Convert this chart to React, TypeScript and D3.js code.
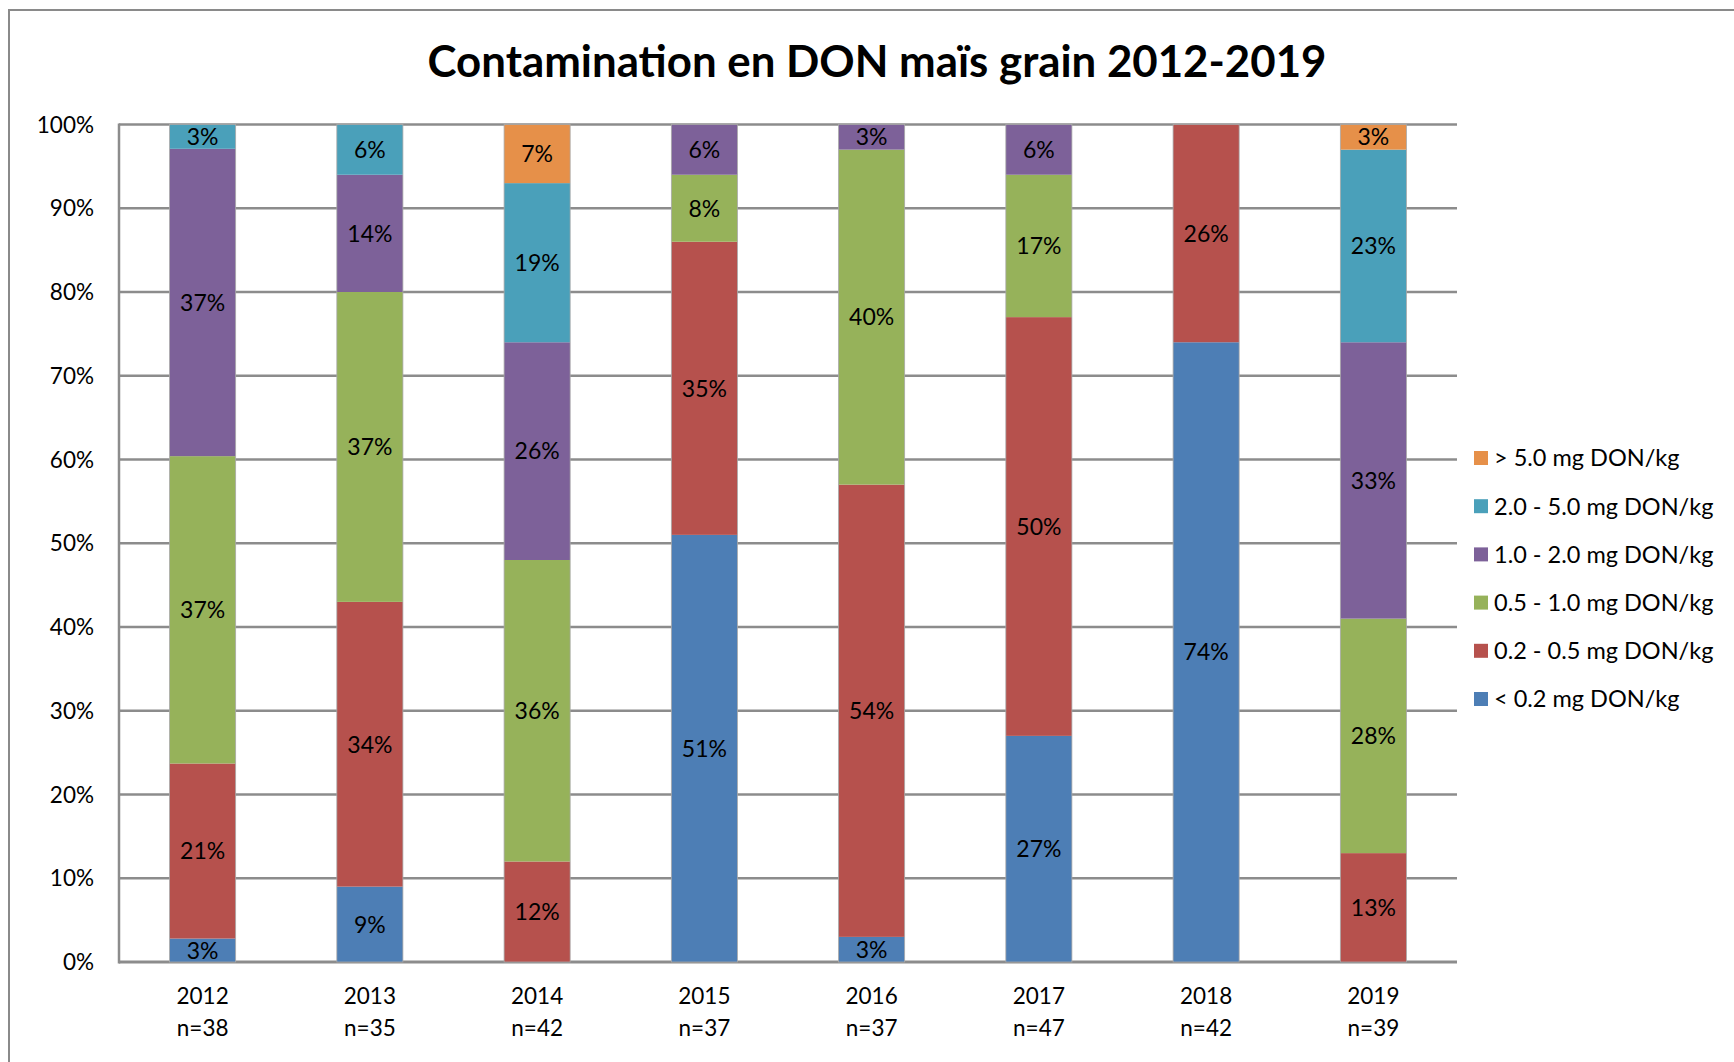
import * as d3 from "d3";

const YEARS = ["2012", "2013", "2014", "2015", "2016", "2017", "2018", "2019"];
const N_SAMPLES = [38, 35, 42, 37, 37, 47, 42, 39];

// shares per class, in %, bottom to top
const LT_02 = [2.8, 9, 0, 51, 3, 27, 74, 0];
const R02_05 = [20.9, 34, 12, 35, 54, 50, 26, 13];
const R05_10 = [36.7, 37, 36, 8, 40, 17, 0, 28];
const R10_20 = [36.7, 14, 26, 6, 3, 6, 0, 33];
const R20_50 = [2.9, 6, 19, 0, 0, 0, 0, 23];
const GT_50 = [0, 0, 7, 0, 0, 0, 0, 3];

const SERIES = ["lt02", "r0205", "r0510", "r1020", "r2050", "gt50"];
const SERIES_LABELS = [
  "< 0.2 mg DON/kg",
  "0.2 - 0.5 mg DON/kg",
  "0.5 - 1.0 mg DON/kg",
  "1.0 - 2.0 mg DON/kg",
  "2.0 - 5.0 mg DON/kg",
  "> 5.0 mg DON/kg",
];
const COLORS = ["#4d7eb5", "#b6514d", "#96b25a", "#7d6199", "#4aa0ba", "#e69049"];
const Y_TICKS = [0, 10, 20, 30, 40, 50, 60, 70, 80, 90, 100];

const TITLE = "Contamination en DON maïs grain 2012-2019";
const FONT = "Lato, 'Open Sans', sans-serif";

const rows = YEARS.map((year, i) => ({
  year,
  lt02: LT_02[i],
  r0205: R02_05[i],
  r0510: R05_10[i],
  r1020: R10_20[i],
  r2050: R20_50[i],
  gt50: GT_50[i],
}));

export default function App() {
  const width = 1734;
  const height = 1062;
  const plot = { left: 119, right: 1457, top: 124.5, bottom: 962 };

  const x = d3
    .scaleBand<string>()
    .domain(YEARS)
    .range([plot.left, plot.right])
    .paddingInner(0.605)
    .paddingOuter(0.3025);
  const y = d3.scaleLinear().domain([0, 100]).range([plot.bottom, plot.top]);
  const color = d3.scaleOrdinal<string, string>().domain(SERIES).range(COLORS);

  const stacked = d3.stack<any>().keys(SERIES)(rows);

  const legendY = d3
    .scalePoint<number>()
    .domain(d3.range(SERIES.length))
    .range([458, 699]);

  const grid = "#8c8c8c";

  return (
    <svg
      width={width}
      height={height}
      style={{ position: "absolute", left: 0, top: 0, background: "#fff" }}
      fontFamily={FONT}
    >
      {/* chart frame, runs off right and bottom */}
      <rect x={9} y={10} width={width} height={height} fill="none" stroke="#8a8a8a" strokeWidth={2} />

      <text x={877} y={77} textAnchor="middle" fontSize={43.8} fontWeight={700} fill="#000">
        {TITLE}
      </text>

      {/* gridlines + y labels */}
      {Y_TICKS.map((t) => (
        <g key={t}>
          <line
            x1={plot.left}
            x2={plot.right}
            y1={y(t)}
            y2={y(t)}
            stroke={grid}
            strokeWidth={t === 0 ? 3 : 2.5}
          />
          <text
            x={94}
            y={y(t)}
            dy="0.36em"
            textAnchor="end"
            fontSize={22.5}
            fill="#000"
          >
            {t}%
          </text>
        </g>
      ))}
      <line x1={plot.left} x2={plot.left} y1={plot.top - 1} y2={plot.bottom + 1.5} stroke={grid} strokeWidth={2.5} />

      {/* bars */}
      {stacked.map((layer) => (
        <g key={layer.key} fill={color(layer.key)}>
          {layer.map((d) => (
            <rect
              key={d.data.year}
              x={x(d.data.year)}
              y={y(d[1])}
              width={x.bandwidth()}
              height={Math.max(0, y(d[0]) - y(d[1]))}
            />
          ))}
        </g>
      ))}
      {YEARS.map((yr) => (
        <rect
          key={yr}
          x={x(yr)}
          y={y(100)}
          width={x.bandwidth()}
          height={y(0) - y(100)}
          fill="none"
          stroke="#a9a9a9"
          strokeWidth={0.8}
        />
      ))}

      {/* value labels */}
      {stacked.map((layer) =>
        layer
          .filter((d) => d[1] - d[0] > 0)
          .map((d) => (
            <text
              key={layer.key + d.data.year}
              x={(x(d.data.year) as number) + x.bandwidth() / 2}
              y={(y(d[0]) + y(d[1])) / 2}
              dy="0.36em"
              textAnchor="middle"
              fontSize={23}
              fill="#000"
            >
              {Math.round(d[1] - d[0])}%
            </text>
          ))
      )}

      {/* x labels */}
      {YEARS.map((yr, i) => (
        <text
          key={yr}
          x={(x(yr) as number) + x.bandwidth() / 2}
          textAnchor="middle"
          fontSize={22.5}
          fill="#000"
        >
          <tspan x={(x(yr) as number) + x.bandwidth() / 2} y={1004}>
            {yr}
          </tspan>
          <tspan x={(x(yr) as number) + x.bandwidth() / 2} y={1036}>
            n={N_SAMPLES[i]}
          </tspan>
        </text>
      ))}

      {/* legend, top entry is last series */}
      {SERIES.slice()
        .reverse()
        .map((key, i) => {
          const idx = SERIES.indexOf(key);
          const cy = legendY(i) as number;
          return (
            <g key={key}>
              <rect x={1474} y={cy - 7} width={14} height={14} fill={color(key)} />
              <text x={1494} y={cy} dy="0.36em" fontSize={23.5} fill="#000">
                {SERIES_LABELS[idx]}
              </text>
            </g>
          );
        })}
    </svg>
  );
}
